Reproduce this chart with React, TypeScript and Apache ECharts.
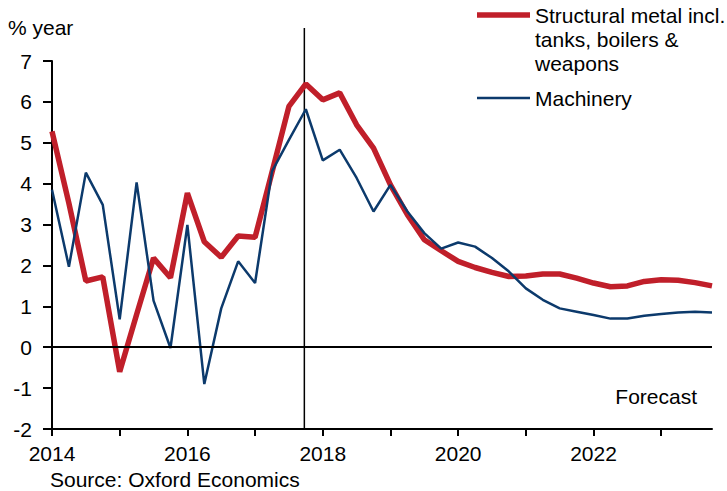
import React, { useEffect, useRef } from "react";
import * as echarts from "echarts";

const quarters = [
  "2014 Q1", "2014 Q2", "2014 Q3", "2014 Q4",
  "2015 Q1", "2015 Q2", "2015 Q3", "2015 Q4",
  "2016 Q1", "2016 Q2", "2016 Q3", "2016 Q4",
  "2017 Q1", "2017 Q2", "2017 Q3", "2017 Q4",
  "2018 Q1", "2018 Q2", "2018 Q3", "2018 Q4",
  "2019 Q1", "2019 Q2", "2019 Q3", "2019 Q4",
  "2020 Q1", "2020 Q2", "2020 Q3", "2020 Q4",
  "2021 Q1", "2021 Q2", "2021 Q3", "2021 Q4",
  "2022 Q1", "2022 Q2", "2022 Q3", "2022 Q4",
  "2023 Q1", "2023 Q2", "2023 Q3", "2023 Q4",
];

const structuralMetal = [
  5.28, 3.52, 1.62, 1.72, -0.6, 0.8, 2.18, 1.7,
  3.77, 2.58, 2.2, 2.72, 2.69, 4.28, 5.89, 6.44,
  6.05, 6.22, 5.44, 4.87, 3.97, 3.24, 2.63, 2.36,
  2.1, 1.95, 1.83, 1.73, 1.74, 1.79, 1.79, 1.69,
  1.57, 1.48, 1.5, 1.61, 1.65, 1.64, 1.58, 1.5,
];

const machinery = [
  3.85, 1.97, 4.27, 3.48, 0.68, 4.03, 1.14, -0.02,
  2.99, -0.9, 0.95, 2.1, 1.57, 4.3, 5.07, 5.82,
  4.57, 4.83, 4.14, 3.32, 3.97, 3.32, 2.79, 2.41,
  2.56, 2.46, 2.18, 1.85, 1.44, 1.16, 0.95, 0.87,
  0.79, 0.7, 0.7, 0.77, 0.81, 0.85, 0.87, 0.85,
];

const seriesNames = ["Structural metal incl.\ntanks, boilers &\nweapons", "Machinery"];
const forecastStartIndex = 15;

const RED = "#c01f2a";
const BLUE = "#0c3a6c";
const FONT = "Liberation Sans, Arial, sans-serif";
const FS = 21;

export default function App() {
  const ref = useRef<HTMLDivElement>(null);

  useEffect(() => {
    if (!ref.current) return;
    const chart = echarts.init(ref.current, undefined, { renderer: "svg" });
    const textStyle = { fontFamily: FONT, fontSize: FS, color: "#000" };
    chart.setOption({
      animation: false,
      backgroundColor: "#fff",
      textStyle: { fontFamily: FONT },
      grid: { left: 52, right: 15, top: 61, bottom: 62, containLabel: false },
      xAxis: {
        type: "category",
        data: quarters,
        boundaryGap: false,
        axisLine: { show: true, onZero: false, lineStyle: { color: "#000", width: 2 } },
        axisTick: { show: true, interval: 3, length: 7, lineStyle: { color: "#000", width: 2 } },
        axisLabel: {
          interval: 7,
          margin: 14,
          ...textStyle,
          formatter: (v: string) => v.slice(0, 4),
        },
        splitLine: { show: false },
      },
      yAxis: {
        type: "value",
        min: -2,
        max: 7,
        interval: 1,
        axisLine: { show: true, lineStyle: { color: "#000", width: 2 } },
        axisTick: { show: true, length: 9, lineStyle: { color: "#000", width: 2 } },
        axisLabel: { margin: 20, ...textStyle },
        splitLine: { show: false },
      },
      series: [
        {
          name: seriesNames[1],
          type: "line",
          data: machinery,
          symbol: "none",
          lineStyle: { color: BLUE, width: 2.5 },
          itemStyle: { color: BLUE },
          z: 3,
          markLine: {
            silent: true,
            symbol: "none",
            label: { show: false },
            lineStyle: { color: "#000", width: 2, type: "solid" },
            data: [{ yAxis: 0 }],
          },
        },
        {
          name: seriesNames[0],
          type: "line",
          data: structuralMetal,
          symbol: "none",
          lineStyle: { color: RED, width: 5.5 },
          itemStyle: { color: RED },
          z: 2,
        },
      ],
    });

    const fx = chart.convertToPixel({ xAxisIndex: 0 }, forecastStartIndex) as number;
    const yBottom = chart.convertToPixel({ yAxisIndex: 0 }, -2) as number;
    const legendText = seriesNames[0].split("\n");
    const font = `${FS}px ${FONT}`;

    chart.setOption({
      graphic: [
        { type: "line", shape: { x1: fx - 1.5, y1: 28, x2: fx - 1.5, y2: yBottom }, style: { stroke: "#000", lineWidth: 1.5 }, z: 1 },
        { type: "text", left: 8, top: 17, style: { text: "% year", font, fill: "#000" } },
        { type: "text", left: 50, top: 469, style: { text: "Source: Oxford Economics", font, fill: "#000" } },
        { type: "text", right: 30, top: 386, style: { text: "Forecast", font, fill: "#000" } },
        { type: "line", shape: { x1: 477, y1: 15, x2: 530, y2: 15 }, style: { stroke: RED, lineWidth: 5.5 } },
        ...legendText.map((t, i) => ({
          type: "text",
          x: 535,
          y: 15 + i * 24,
          style: { text: t, font, fill: "#000", verticalAlign: "middle" },
        })),
        { type: "line", shape: { x1: 477, y1: 98, x2: 530, y2: 98 }, style: { stroke: BLUE, lineWidth: 2.5 } },
        { type: "text", x: 535, y: 98, style: { text: seriesNames[1], font, fill: "#000", verticalAlign: "middle" } },
      ],
    });

    return () => chart.dispose();
  }, []);

  return <div ref={ref} style={{ width: 727, height: 491, position: "absolute", left: 0, top: 0 }} />;
}
